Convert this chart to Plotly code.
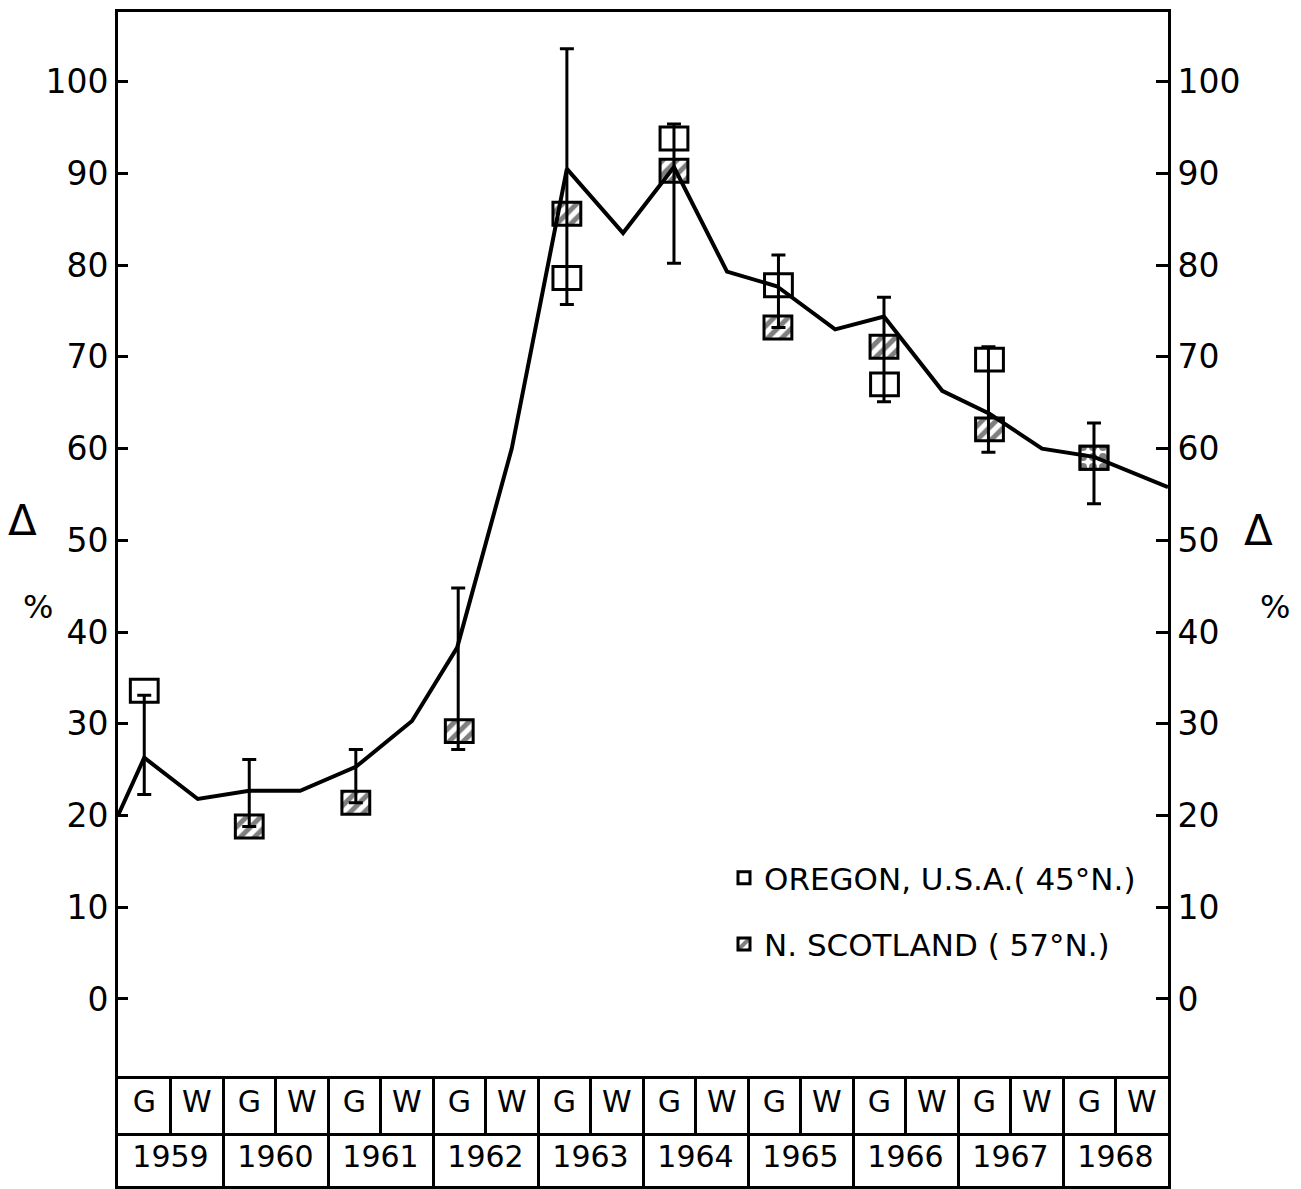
import plotly.graph_objects as go

# ---------------- data ----------------
seasons = ["G", "W"] * 10
years = ["1959", "1960", "1961", "1962", "1963", "1964", "1965", "1966", "1967", "1968"]
season_pos = [i + 0.5 for i in range(20)]
year_pos = [2 * i + 1 for i in range(10)]

# curve
line_x = [0, 0.50, 1.52, 2.50, 3.47, 4.53, 5.6, 6.46, 7.5, 8.55, 9.62, 10.59,
          11.6, 12.55, 13.66, 14.59, 15.7, 16.6, 17.6, 18.59, 20]
line_y = [20.0, 26.3, 21.8, 22.7, 22.7, 25.3, 30.3, 38.3, 60.0, 90.5, 83.5, 90.7,
          79.3, 77.7, 73.0, 74.4, 66.3, 63.8, 60.0, 59.1, 55.8]

# growing-season positions of each year's observations
g_pos = [0.50, 2.50, 4.53, 6.48, 8.55, 10.59, 12.58, 14.59, 16.58, 18.59]
err_low = [22.3, 18.8, 21.4, 27.2, 75.7, 80.2, 73.2, 65.1, 59.6, 54.0]
err_high = [33.1, 26.1, 27.2, 44.8, 103.6, 95.4, 81.1, 76.5, 71.1, 62.8]

oregon_x = [0.50, 8.55, 10.59, 12.58, 14.6, 16.6, 18.59]
oregon_y = [33.6, 78.6, 93.8, 77.8, 67.0, 69.7, 59.0]

scotland_x = [2.50, 4.53, 6.5, 8.55, 10.59, 12.57, 14.59, 16.6, 18.59]
scotland_y = [18.8, 21.4, 29.2, 85.6, 90.3, 73.2, 71.1, 62.1, 59.0]
scotland_fill = ["/", "/", "/", "/", "/", "/", "/", "/", "."]

y_ticks = list(range(0, 101, 10))

# ---------------- styling ----------------
FONT = "DejaVu Sans"
BOX_H = 2.5     # marker box height (data units)
BOX_W = 0.53    # marker box width (season units)

fig = go.Figure()

fig.add_trace(go.Bar(
    x=oregon_x, y=[BOX_H] * len(oregon_y), base=[v - BOX_H / 2 for v in oregon_y],
    width=BOX_W, name="OREGON, U.S.A.( 45°N.)", legendgroup="a",
    marker=dict(color="white", line=dict(color="black", width=3)),
    xaxis="x", yaxis="y",
))
fig.add_trace(go.Bar(
    x=scotland_x, y=[BOX_H] * len(scotland_y), base=[v - BOX_H / 2 for v in scotland_y],
    width=BOX_W, name="N. SCOTLAND ( 57°N.)", legendgroup="b",
    marker=dict(color="white", line=dict(color="black", width=3),
                pattern=dict(shape=scotland_fill, fgcolor="black", bgcolor="white",
                             size=10, solidity=0.5)),
    xaxis="x", yaxis="y",
))

fig.add_trace(go.Scatter(
    x=g_pos, y=err_low, mode="markers", marker=dict(opacity=0, size=1),
    error_y=dict(type="data", symmetric=False,
                 array=[h - l for h, l in zip(err_high, err_low)],
                 arrayminus=[0] * len(err_low),
                 color="black", thickness=3, width=7),
    showlegend=False, hoverinfo="skip", xaxis="x", yaxis="y",
))

fig.add_trace(go.Scatter(
    x=line_x, y=line_y, mode="lines", line=dict(color="black", width=4),
    showlegend=False, xaxis="x", yaxis="y",
))

# dummy trace to create the right-hand axis
fig.add_trace(go.Scatter(x=[None], y=[None], xaxis="x", yaxis="y2", showlegend=False))

# table rows
fig.add_trace(go.Scatter(
    x=season_pos, y=[0.5] * 20, text=seasons, mode="text",
    textfont=dict(family=FONT, size=30, color="black"),
    showlegend=False, hoverinfo="skip", xaxis="x2", yaxis="y3",
))
fig.add_trace(go.Scatter(
    x=year_pos, y=[0.5] * 10, text=years, mode="text",
    textfont=dict(family=FONT, size=30, color="black"),
    showlegend=False, hoverinfo="skip", xaxis="x3", yaxis="y4",
))

W, H = 1301, 1189
ML, MR, MT, MB = 118, 133, 12, 3
ph = H - MT - MB
def py(pix):  # pixel y -> paper fraction
    return (H - MB - pix) / ph

main_bottom = py(1076)
row_split = py(1133)

tickfont = dict(family=FONT, size=33, color="black")

fig.update_layout(
    width=W, height=H,
    margin=dict(l=ML, r=MR, t=MT, b=MB),
    paper_bgcolor="white", plot_bgcolor="white",
    barmode="overlay",
    font=dict(family=FONT, color="black"),
    xaxis=dict(domain=[0, 1], range=[0, 20], anchor="y", showline=True, mirror=True,
               linewidth=3, linecolor="black", showticklabels=False, ticks="",
               showgrid=False, zeroline=False),
    yaxis=dict(domain=[main_bottom, 1], range=[-8.4, 107.6], anchor="x",
               tickvals=y_ticks, ticks="inside", ticklen=10, tickwidth=2.5,
               tickcolor="black", showline=True, linewidth=3, linecolor="black",
               showgrid=False, zeroline=False, tickfont=tickfont),
    yaxis2=dict(overlaying="y", side="right", matches="y", anchor="x",
                tickvals=y_ticks, ticks="inside", ticklen=12, tickwidth=2.5,
                tickcolor="black", showline=True, linewidth=3, linecolor="black",
                showgrid=False, zeroline=False, tickfont=tickfont),
    xaxis2=dict(domain=[0, 1], matches="x", anchor="y3", showline=True, mirror=False,
                linewidth=3, linecolor="black", showticklabels=False, ticks="",
                tickvals=list(range(1, 20)), showgrid=True, gridcolor="black",
                gridwidth=2.5, zeroline=False),
    yaxis3=dict(domain=[row_split, main_bottom], range=[0, 1], anchor="x2",
                showline=True, mirror=True, linewidth=3, linecolor="black",
                showticklabels=False, ticks="", showgrid=False, zeroline=False),
    xaxis3=dict(domain=[0, 1], matches="x", anchor="y4", showline=True, mirror=False,
                linewidth=3, linecolor="black", showticklabels=False, ticks="",
                tickvals=list(range(2, 20, 2)), showgrid=True, gridcolor="black",
                gridwidth=2.5, zeroline=False),
    yaxis4=dict(domain=[0, row_split], range=[0, 1], anchor="x3",
                showline=True, mirror=True, linewidth=3, linecolor="black",
                showticklabels=False, ticks="", showgrid=False, zeroline=False),
    legend=dict(x=(724 - ML) / 1050, y=py(851), xanchor="left", yanchor="top",
                traceorder="grouped", tracegroupgap=23,
                font=dict(family=FONT, size=31, color="black"),
                bgcolor="rgba(0,0,0,0)"),
    showlegend=True,
)

ann = [
    dict(text="Δ", x=22, y=520, size=42),
    dict(text="%", x=38, y=607, size=32),
    dict(text="Δ", x=1258, y=530, size=42),
    dict(text="%", x=1275, y=607, size=32),
]
for a in ann:
    fig.add_annotation(text=a["text"], xref="paper", yref="paper",
                       x=(a["x"] - ML) / 1050, y=py(a["y"]),
                       xanchor="center", yanchor="middle", showarrow=False,
                       font=dict(family=FONT, size=a["size"], color="black"))

fig.write_html("out.html")
